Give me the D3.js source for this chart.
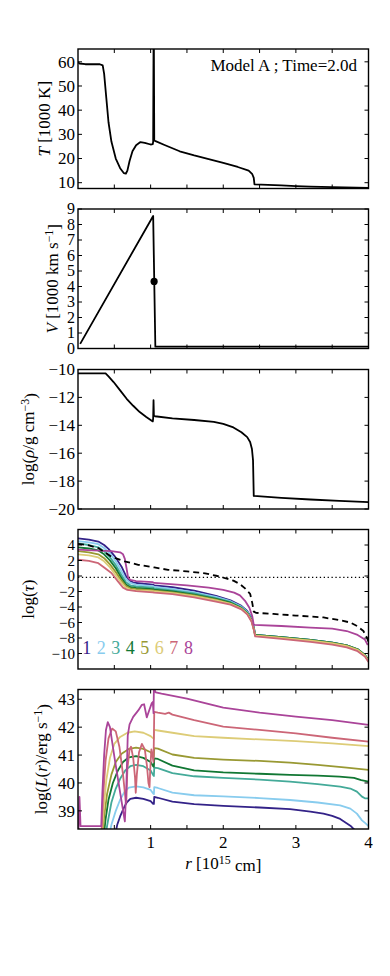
<!DOCTYPE html>
<html>
<head>
<meta charset="utf-8">
<script src="https://cdn.jsdelivr.net/npm/d3@7"></script>
<style>
body { margin: 0; background: #fff; }
text { font-family: "Liberation Serif", "DejaVu Serif", serif; fill: #000; }
</style>
</head>
<body>
<svg id="chart" width="390" height="976"></svg>
<script>
const width = 390, height = 976;

// ---- data ----
const title = "Model A ; Time=2.0d";
const xTicks = [0.5, 1, 1.5, 2, 2.5, 3, 3.5];
const xTickLabels = [1, 2, 3, 4];

const tempTicks = [10, 20, 30, 40, 50, 60];
const tempPts = [[0,60],[0.02,59.3],[0.1,59],[0.3,59],[0.34,58.5],[0.36,55],[0.39,45],[0.42,35],[0.46,27],[0.52,20],
  [0.58,16],[0.63,14],[0.66,13.8],[0.68,15],[0.71,19],[0.75,23],[0.8,25.5],[0.86,26.8],[0.92,26.5],[1.0,25.8],
  [1.03,26],[1.035,27],[1.04,66],[1.045,66],[1.05,27.5],[1.06,27.3],[1.2,25.5],[1.4,23],[1.6,21.3],[1.8,19.8],
  [2.0,18.2],[2.2,16.5],[2.35,15],[2.4,13.5],[2.42,12],[2.43,9.3],[2.8,8.9],[3.0,8.6],[3.2,8.4],[3.5,8.2],[4.0,7.9]];

const velTicks = [0, 1, 2, 3, 4, 5, 6, 7, 8, 9];
const velPts = [[0.03,0.3],[1.035,8.55],[1.065,0.12],[4.0,0.12]];
const velDot = [1.048, 4.33];

const rhoTicks = [-20, -18, -16, -14, -12, -10];
const rhoPts = [[0,-10.28],[0.38,-10.28],[0.42,-10.5],[0.49,-10.9],[0.58,-11.5],[0.67,-12.1],[0.76,-12.6],[0.85,-13.05],
  [0.94,-13.4],[1.03,-13.72],[1.035,-13.5],[1.04,-12.2],[1.045,-13.3],[1.06,-13.35],[1.3,-13.5],[1.6,-13.62],
  [1.87,-13.75],[2.0,-13.9],[2.14,-14.15],[2.25,-14.5],[2.33,-14.85],[2.37,-15.2],[2.395,-15.7],[2.41,-16.5],
  [2.42,-19.06],[2.8,-19.2],[3.2,-19.32],[3.6,-19.42],[4.0,-19.5]];

const tauTicks = [-10, -8, -6, -4, -2, 0, 2, 4];
const tauPhot = -0.176;
const tau1 = [[0,4.85],[0.15,4.7],[0.28,4.45],[0.36,4.0],[0.42,3.5],[0.51,2.5],[0.6,1.2],[0.66,0.0],[0.7,-0.5],[0.76,-0.85],
  [0.9,-1.0],[1.03,-1.1],[1.05,-1.2],[1.3,-1.45],[1.6,-1.9],[1.9,-2.55],[2.1,-3.15],[2.25,-3.85],[2.33,-4.5],[2.39,-5.4],
  [2.42,-6.5],[2.44,-7.6],[2.8,-7.9],[3.2,-8.25],[3.5,-8.6],[3.7,-8.95],[3.85,-9.45],[3.95,-10.2],[4.0,-10.9]];
const tau2 = [[0,4.5],[0.15,4.35],[0.28,4.1],[0.36,3.6],[0.44,2.9],[0.52,1.9],[0.6,0.6],[0.66,-0.4],[0.72,-0.9],[0.8,-1.1],
  [1.03,-1.3],[1.05,-1.4],[1.3,-1.65],[1.6,-2.1],[1.9,-2.7],[2.1,-3.25],[2.25,-3.95],[2.33,-4.6],[2.39,-5.5],
  [2.42,-6.6],[2.44,-7.6],[2.8,-7.9],[3.2,-8.25],[3.5,-8.6],[3.7,-8.95],[3.85,-9.45],[3.95,-10.2],[4.0,-10.9]];
const tau3 = [[0,4.2],[0.15,4.0],[0.28,3.7],[0.36,3.2],[0.44,2.4],[0.52,1.4],[0.6,0.1],[0.66,-0.8],[0.72,-1.2],[0.8,-1.35],
  [1.03,-1.5],[1.05,-1.6],[1.3,-1.85],[1.6,-2.25],[1.9,-2.85],[2.1,-3.35],[2.25,-4.05],[2.33,-4.7],[2.39,-5.6],
  [2.42,-6.7],[2.44,-7.6],[2.8,-7.9],[3.2,-8.25],[3.5,-8.6],[3.7,-8.95],[3.85,-9.45],[3.95,-10.2],[4.0,-10.9]];
const tau4 = [[0,3.7],[0.15,3.55],[0.28,3.3],[0.36,2.8],[0.44,2.0],[0.52,1.0],[0.6,-0.3],[0.66,-1.1],[0.72,-1.45],[0.8,-1.55],
  [1.03,-1.7],[1.05,-1.75],[1.3,-2.0],[1.6,-2.4],[1.9,-2.95],[2.1,-3.45],[2.25,-4.15],[2.33,-4.8],[2.39,-5.7],
  [2.42,-6.8],[2.44,-7.6],[2.8,-7.9],[3.2,-8.25],[3.5,-8.6],[3.7,-8.95],[3.85,-9.45],[3.95,-10.2],[4.0,-10.9]];
const tau5 = [[0,3.2],[0.15,3.05],[0.28,2.8],[0.36,2.3],[0.44,1.5],[0.52,0.5],[0.6,-0.6],[0.66,-1.3],[0.72,-1.6],[0.8,-1.7],
  [1.03,-1.85],[1.05,-1.9],[1.3,-2.1],[1.6,-2.5],[1.9,-3.05],[2.1,-3.55],[2.25,-4.2],[2.33,-4.85],[2.39,-5.75],
  [2.42,-6.85],[2.44,-7.65],[2.8,-7.95],[3.2,-8.3],[3.5,-8.65],[3.7,-9.0],[3.85,-9.5],[3.95,-10.25],[4.0,-10.95]];
const tau6 = [[0,2.8],[0.15,2.65],[0.28,2.4],[0.36,1.9],[0.44,1.1],[0.52,0.1],[0.6,-0.9],[0.66,-1.5],[0.72,-1.75],[0.8,-1.85],
  [1.03,-1.95],[1.05,-2.0],[1.3,-2.2],[1.6,-2.6],[1.9,-3.15],[2.1,-3.6],[2.25,-4.25],[2.33,-4.9],[2.39,-5.8],
  [2.42,-6.9],[2.44,-7.7],[2.8,-8.0],[3.2,-8.35],[3.5,-8.7],[3.7,-9.05],[3.85,-9.55],[3.95,-10.3],[4.0,-11.0]];
const tau7 = [[0,2.1],[0.15,1.95],[0.28,1.65],[0.36,1.1],[0.46,0.38],[0.55,-0.7],[0.62,-1.5],[0.68,-1.8],[0.8,-1.95],
  [1.03,-2.1],[1.05,-2.15],[1.3,-2.35],[1.6,-2.75],[1.9,-3.3],[2.1,-3.7],[2.25,-4.3],[2.33,-4.95],[2.39,-5.9],
  [2.42,-6.9],[2.44,-7.8],[2.8,-8.1],[3.2,-8.5],[3.5,-8.85],[3.7,-9.2],[3.85,-9.7],[3.95,-10.4],[4.0,-11.1]];
const tau8 = [[0,3.4],[0.2,3.3],[0.46,3.2],[0.58,3.05],[0.62,2.8],[0.645,2.2],[0.67,0.9],[0.69,-0.2],[0.72,-0.5],[0.8,-0.65],
  [1.03,-0.8],[1.05,-0.9],[1.5,-1.2],[1.8,-1.5],[2.0,-1.8],[2.15,-2.15],[2.23,-2.5],[2.3,-3.2],[2.36,-4.1],[2.4,-5.2],
  [2.42,-6.3],[2.8,-6.45],[3.2,-6.65],[3.5,-6.8],[3.7,-7.1],[3.85,-7.6],[3.95,-8.2],[3.99,-8.9]];
const tauGray = [[0,4.15],[0.15,3.95],[0.28,3.6],[0.46,2.5],[0.64,1.9],[0.83,1.45],[1.05,1.1],[1.24,0.8],[1.5,0.6],
  [1.75,0.35],[1.92,0.0],[2.05,-0.35],[2.14,-0.6],[2.23,-1.05],[2.3,-1.6],[2.37,-2.3],[2.4,-3.5],[2.42,-4.6],[2.45,-4.75],
  [2.69,-4.9],[3.0,-5.1],[3.38,-5.35],[3.6,-5.7],[3.75,-6.0],[3.85,-6.5],[3.93,-7.1],[3.98,-8.0],[4.0,-8.5]];

const lumTicks = [39, 40, 41, 42, 43];
const lum1 = [[0.5,38.0],[0.54,38.5],[0.58,38.8],[0.63,39.1],[0.67,39.3],[0.72,39.43],[0.8,39.47],[0.9,39.43],[1.0,39.35],
  [1.035,39.25],[1.045,39.25],[1.05,39.5],[1.1,39.47],[1.3,39.33],[1.6,39.24],[2.0,39.18],[2.5,39.12],[2.92,39.06],
  [3.2,38.97],[3.38,38.9],[3.5,38.82],[3.61,38.71],[3.75,38.47],[3.82,38.29],[3.86,38.1]];
const lum2 = [[0.42,38.0],[0.46,38.5],[0.52,39.0],[0.58,39.4],[0.64,39.68],[0.7,39.83],[0.8,39.88],[0.9,39.84],[1.0,39.75],
  [1.035,39.62],[1.045,39.6],[1.05,39.85],[1.1,39.82],[1.3,39.65],[1.6,39.56],[2.0,39.52],[2.5,39.46],[2.92,39.39],
  [3.3,39.3],[3.61,39.2],[3.75,39.08],[3.84,38.9],[3.91,38.66],[3.96,38.55],[4.0,38.45]];
const lum3 = [[0.37,38.0],[0.41,38.6],[0.46,39.3],[0.52,39.8],[0.58,40.15],[0.65,40.45],[0.72,40.6],[0.8,40.65],[0.9,40.6],
  [1.0,40.45],[1.035,40.28],[1.045,40.25],[1.05,40.55],[1.1,40.53],[1.3,40.35],[1.6,40.24],[2.0,40.18],[2.5,40.12],
  [2.92,40.05],[3.3,39.96],[3.61,39.87],[3.75,39.8],[3.84,39.69],[3.91,39.51],[3.95,39.45],[4.0,39.45]];
const lum4 = [[0.35,38.0],[0.38,38.7],[0.42,39.4],[0.48,40.0],[0.55,40.45],[0.62,40.75],[0.7,40.92],[0.8,40.96],[0.9,40.9],
  [1.0,40.75],[1.035,40.6],[1.045,40.58],[1.05,40.88],[1.1,40.86],[1.3,40.62],[1.6,40.45],[2.0,40.38],[2.5,40.33],
  [2.92,40.29],[3.3,40.26],[3.6,40.23],[3.8,40.18],[3.9,40.1],[4.0,40.05]];
const lum5 = [[0.335,38.0],[0.36,38.8],[0.4,39.6],[0.46,40.3],[0.52,40.75],[0.6,41.05],[0.7,41.22],[0.8,41.27],[0.9,41.22],
  [1.0,41.1],[1.035,40.98],[1.045,40.95],[1.05,41.25],[1.1,41.23],[1.3,41.02],[1.6,40.9],[2.0,40.84],[2.5,40.79],
  [2.92,40.73],[3.3,40.65],[3.7,40.55],[4.0,40.47]];
const lum6 = [[0.325,38.0],[0.35,39.0],[0.39,40.1],[0.44,40.9],[0.5,41.4],[0.58,41.65],[0.68,41.8],[0.78,41.85],[0.9,41.8],
  [1.0,41.68],[1.035,41.6],[1.045,41.58],[1.05,41.9],[1.1,41.88],[1.3,41.8],[1.6,41.68],[2.0,41.62],[2.5,41.56],
  [3.0,41.5],[3.5,41.42],[4.0,41.32]];
const lum7 = [[0.32,38.0],[0.345,39.5],[0.38,40.8],[0.42,41.6],[0.47,41.95],[0.52,41.85],[0.57,41.3],[0.62,40.3],[0.655,39.4],
  [0.665,39.3],[0.68,40.5],[0.71,41.2],[0.73,41.3],[0.76,40.9],[0.785,40.2],[0.795,39.65],[0.81,40.3],[0.84,41.1],
  [0.88,41.4],[0.92,41.2],[0.95,40.6],[0.97,40.0],[0.985,39.85],[0.995,40.5],[1.01,41.2],[1.025,41.0],[1.04,40.75],
  [1.05,42.55],[1.1,42.52],[1.2,42.48],[1.25,42.52],[1.3,42.45],[1.6,42.25],[2.0,42.02],[2.5,41.9],[3.0,41.78],
  [3.5,41.62],[4.0,41.48]];
const lum8 = [[0.005,38.2],[0.02,39.5],[0.035,38.45],[0.32,38.45],[0.335,39.6],[0.36,41.0],[0.385,41.9],[0.41,42.18],
  [0.44,42.0],[0.5,40.95],[0.59,39.5],[0.645,38.62],[0.665,39.8],[0.685,41.7],[0.71,42.1],[0.76,42.37],[0.83,42.6],
  [0.88,42.8],[0.91,42.82],[0.947,42.35],[0.98,42.6],[1.016,42.86],[1.03,42.9],[1.04,42.5],[1.045,43.4],[1.07,43.25],
  [1.15,43.2],[1.5,43.02],[2.0,42.7],[2.5,42.52],[3.0,42.38],[3.5,42.25],[4.0,42.08]];

const bandNames = ["1", "2", "3", "4", "5", "6", "7", "8"];
const bandColors = ["#332288", "#88CCEE", "#44AA99", "#117733", "#999933", "#DDCC77", "#CC6677", "#AA4499"];
const bandLabelX = [0.12, 0.32, 0.52, 0.72, 0.92, 1.12, 1.32, 1.52];

// ---- layout ----
const svg = d3.select("#chart");
const x = d3.scaleLinear().domain([0, 4]).range([78, 368.5]);
const panelH = 139.5;
const fs = 17;

function makePanel(id, top, domain, ticks, labelX, tickFs) {
  const y = d3.scaleLinear().domain(domain).range([top + panelH, top]);
  const g = svg.append("g");
  svg.append("clipPath").attr("id", "clip" + id)
    .append("rect").attr("x", x(0)).attr("y", top).attr("width", x(4) - x(0)).attr("height", panelH);
  const plot = g.append("g").attr("clip-path", "url(#clip" + id + ")");

  // inward ticks on all four sides
  const tk = g.append("g").attr("stroke", "#000").attr("stroke-width", 1);
  ticks.forEach(t => {
    tk.append("line").attr("x1", x(0)).attr("x2", x(0) + 4).attr("y1", y(t)).attr("y2", y(t));
    tk.append("line").attr("x1", x(4)).attr("x2", x(4) - 4).attr("y1", y(t)).attr("y2", y(t));
  });
  xTicks.forEach(t => {
    tk.append("line").attr("x1", x(t)).attr("x2", x(t)).attr("y1", top).attr("y2", top + 4);
    tk.append("line").attr("x1", x(t)).attr("x2", x(t)).attr("y1", top + panelH).attr("y2", top + panelH - 4);
  });
  g.selectAll(".ytl").data(ticks).join("text")
    .attr("x", x(0) - 3).attr("y", d => y(d)).attr("dy", "0.34em")
    .attr("text-anchor", "end").attr("font-size", tickFs || fs)
    .text(d => d < 0 ? "\u2212" + Math.abs(d) : d);

  g.append("rect").attr("x", x(0)).attr("y", top).attr("width", x(4) - x(0)).attr("height", panelH)
    .attr("fill", "none").attr("stroke", "#000").attr("stroke-width", 1.4);

  const lab = g.append("text").attr("font-size", fs).attr("text-anchor", "middle")
    .attr("transform", `translate(${labelX},${top + panelH / 2}) rotate(-90)`);
  return { y, plot, lab, g };
}

function addLine(p, pts, color, w, dash) {
  const line = d3.line().x(d => x(d[0])).y(d => p.y(d[1]));
  const path = p.plot.append("path").datum(pts).attr("d", line)
    .attr("fill", "none").attr("stroke", color).attr("stroke-width", w)
    .attr("stroke-linejoin", "round");
  if (dash) path.attr("stroke-dasharray", dash);
  return path;
}

function sup(lab, s) {
  lab.append("tspan").attr("dy", "-0.45em").attr("font-size", "0.7em").text(s);
}

// panel 1: temperature
const p1 = makePanel(1, 49, [7.6, 65.3], tempTicks, 50);
addLine(p1, tempPts, "#000", 1.8);
p1.lab.append("tspan").attr("font-style", "italic").text("T");
p1.lab.append("tspan").text(" [1000 K]");
p1.g.append("text").attr("x", 357).attr("y", 71).attr("text-anchor", "end").attr("font-size", fs).text(title);

// panel 2: velocity
const p2 = makePanel(2, 209, [0, 9], velTicks, 58, 16);
addLine(p2, velPts, "#000", 1.8);
p2.plot.append("circle").attr("cx", x(velDot[0])).attr("cy", p2.y(velDot[1])).attr("r", 3.6).attr("fill", "#000");
p2.lab.append("tspan").attr("font-style", "italic").text("V");
p2.lab.append("tspan").text(" [1000 km s");
sup(p2.lab, "\u22121");
p2.lab.append("tspan").attr("dy", "0.45em").text("]");

// panel 3: density
const p3 = makePanel(3, 369.5, [-20, -10], rhoTicks, 34);
addLine(p3, rhoPts, "#000", 1.8);
p3.lab.append("tspan").text("log(");
p3.lab.append("tspan").attr("font-style", "italic").text("\u03c1");
p3.lab.append("tspan").text("/g cm");
sup(p3.lab, "\u22123");
p3.lab.append("tspan").attr("dy", "0.45em").text(")");

// panel 4: optical depth
const p4 = makePanel(4, 529.5, [-12, 6], tauTicks, 34, 15);
p4.plot.append("line").attr("x1", x(0)).attr("x2", x(4)).attr("y1", p4.y(tauPhot)).attr("y2", p4.y(tauPhot))
  .attr("stroke", "#000").attr("stroke-width", 1.3).attr("stroke-dasharray", "1.3,2.6");
[tau1, tau2, tau3, tau4, tau5, tau6, tau7, tau8].forEach((s, i) => addLine(p4, s, bandColors[i], 1.8));
addLine(p4, tauGray, "#000", 1.8, "6,4");
p4.g.selectAll(".bl").data(bandNames).join("text")
  .attr("x", (d, i) => x(bandLabelX[i])).attr("y", p4.y(-10.1))
  .attr("text-anchor", "middle").attr("font-size", 18)
  .style("fill", (d, i) => bandColors[i]).text(d => d);
p4.lab.append("tspan").text("log(");
p4.lab.append("tspan").attr("font-style", "italic").text("\u03c4");
p4.lab.append("tspan").text(")");

// panel 5: luminosity
const p5 = makePanel(5, 689.5, [38.35, 43.35], lumTicks, 47);
[lum1, lum2, lum3, lum4, lum5, lum6, lum7, lum8].forEach((s, i) => addLine(p5, s, bandColors[i], 1.8));
p5.lab.append("tspan").text("log(");
p5.lab.append("tspan").attr("font-style", "italic").text("L");
p5.lab.append("tspan").text("(");
p5.lab.append("tspan").attr("font-style", "italic").text("r");
p5.lab.append("tspan").text(")/erg s");
sup(p5.lab, "\u22121");
p5.lab.append("tspan").attr("dy", "0.45em").text(")");

// x axis labels under the last panel
svg.selectAll(".xtl").data(xTickLabels).join("text")
  .attr("x", d => x(d)).attr("y", 848).attr("text-anchor", "middle").attr("font-size", fs).text(d => d);
const xl = svg.append("text").attr("x", x(2)).attr("y", 869).attr("text-anchor", "middle").attr("font-size", fs);
xl.append("tspan").attr("font-style", "italic").text("r");
xl.append("tspan").text(" [10");
sup(xl, "15");
xl.append("tspan").attr("dy", "0.45em").text(" cm]");
</script>
</body>
</html>
